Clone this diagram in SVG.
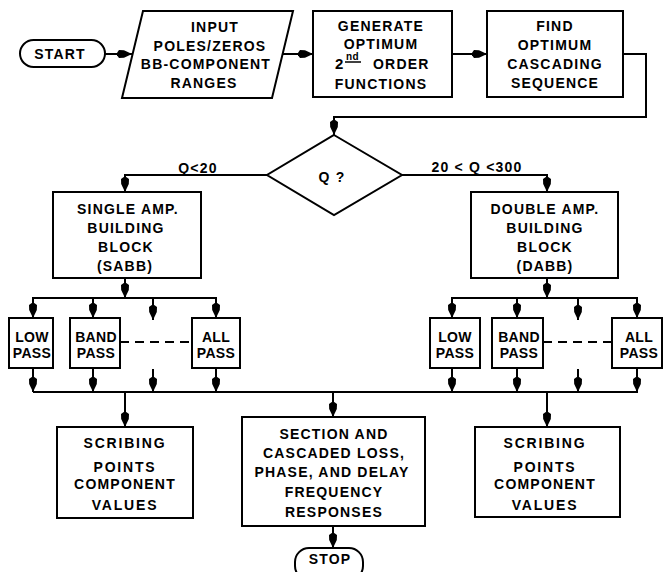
<svg xmlns="http://www.w3.org/2000/svg" width="671" height="572" viewBox="0 0 671 572">
<style>
.s{fill:none;stroke:#000;stroke-width:2}
.b{fill:#fff;stroke:#000;stroke-width:2}
.c{fill:none;stroke:#000;stroke-width:2;marker-end:url(#ah)}
.d{fill:none;stroke:#000;stroke-width:2;stroke-dasharray:9,6}
text{font-family:"Liberation Sans",Arial,sans-serif;font-weight:bold;font-size:14px;text-anchor:middle;letter-spacing:1.2px;fill:#000}
.n{letter-spacing:0.3px}
.w{letter-spacing:1.8px}
.l{text-anchor:start}
</style>
<defs>
<marker id="ah" markerUnits="userSpaceOnUse" markerWidth="16" markerHeight="10" refX="15" refY="5" orient="auto">
<path d="M0,3.8 L2,1 L7,1.2 L15,5 L7,8.8 L2,9 L0,6.2 Z" fill="#000"/>
</marker>
</defs>
<rect width="671" height="572" fill="#fff"/>
<g id="connectors">
<path class="c" d="M105,54 H132"/>
<path class="c" d="M283,54 H313"/>
<path class="c" d="M452,54 H487"/>
<path class="c" d="M623,54 H646 V117 H334 V135"/>
<path class="c" d="M267,175 H125 V192"/>
<path class="c" d="M402,175 H547 V192"/>
<path class="c" d="M125,278 V298"/>
<path class="c" d="M125,298 H33 V318"/>
<path class="c" d="M125,298 H216 V318"/>
<path class="c" d="M93,298 V318"/>
<path class="c" d="M153,299 V320"/>
<path class="c" d="M33,368 V392"/>
<path class="c" d="M93,368 V392"/>
<path class="c" d="M153,369 V392"/>
<path class="c" d="M216,368 V392"/>
<path class="s" d="M33,392 H638"/>
<path class="d" d="M120,342 H192"/>
<path class="c" d="M547,278 V298"/>
<path class="c" d="M547,298 H452 V318"/>
<path class="c" d="M547,298 H637 V318"/>
<path class="c" d="M517,298 V318"/>
<path class="c" d="M578,299 V320"/>
<path class="c" d="M452,368 V392"/>
<path class="c" d="M517,368 V392"/>
<path class="c" d="M578,369 V392"/>
<path class="c" d="M637,368 V392"/>
<path class="d" d="M543,342 H612"/>
<path class="c" d="M125,392 V427"/>
<path class="c" d="M333,392 V417"/>
<path class="c" d="M547,392 V427"/>
<path class="c" d="M333,526 V548"/>
</g>
<g id="start">
<rect class="b" x="20" y="40" width="85" height="27" rx="13.5"/>
<text x="60" y="59">START</text>
</g>
<g id="input">
<polygon class="b" points="143,11 293,11 272,98 122,98"/>
<text x="215" y="32">INPUT</text>
<text x="210" y="51">POLES/ZEROS</text>
<text x="206" y="69">BB-COMPONENT</text>
<text x="204" y="88">RANGES</text>
</g>
<g id="generate">
<rect class="b" x="313" y="11" width="139" height="86"/>
<text x="381" y="31">GENERATE</text>
<text x="381" y="49">OPTIMUM</text>
<text class="l" x="335" y="69" style="font-size:15px">2</text>
<text class="l" x="346" y="60" style="font-size:10px;letter-spacing:0.5px">nd</text>
<path class="s" d="M345,62 H361" style="stroke-width:1.5"/>
<text class="l" x="373" y="69">ORDER</text>
<text x="381" y="89">FUNCTIONS</text>
</g>
<g id="find">
<rect class="b" x="487" y="11" width="136" height="86"/>
<text x="555" y="31">FIND</text>
<text x="555" y="50">OPTIMUM</text>
<text x="555" y="69">CASCADING</text>
<text x="555" y="88">SEQUENCE</text>
</g>
<g id="decision">
<polygon class="b" points="334,135 402,175 334,215 267,175"/>
<text x="332" y="182">Q ?</text>
<text x="198" y="173">Q&lt;20</text>
<text x="477" y="172">20 &lt; Q &lt;300</text>
</g>
<g id="sabb">
<rect class="b" x="53" y="192" width="148" height="86"/>
<text x="128" y="214">SINGLE AMP.</text>
<text x="126" y="233">BUILDING</text>
<text x="126" y="252">BLOCK</text>
<text x="125" y="271">(SABB)</text>
</g>
<g id="dabb">
<rect class="b" x="471" y="192" width="147" height="86"/>
<text x="545" y="214">DOUBLE AMP.</text>
<text x="545" y="233">BUILDING</text>
<text x="545" y="252">BLOCK</text>
<text x="545" y="271">(DABB)</text>
</g>
<g id="lowpass-l">
<rect class="b" x="9" y="318" width="44" height="50"/>
<text class="n" x="32" y="342">LOW</text>
<text class="n" x="32" y="358">PASS</text>
</g>
<g id="bandpass-l">
<rect class="b" x="70" y="318" width="50" height="50"/>
<text class="n" x="96" y="342">BAND</text>
<text class="n" x="96" y="358">PASS</text>
</g>
<g id="allpass-l">
<rect class="b" x="192" y="318" width="48" height="50"/>
<text class="n" x="216" y="342">ALL</text>
<text class="n" x="216" y="358">PASS</text>
</g>
<g id="lowpass-r">
<rect class="b" x="430" y="318" width="50" height="50"/>
<text class="n" x="455" y="342">LOW</text>
<text class="n" x="455" y="358">PASS</text>
</g>
<g id="bandpass-r">
<rect class="b" x="492" y="318" width="51" height="50"/>
<text class="n" x="519" y="342">BAND</text>
<text class="n" x="519" y="358">PASS</text>
</g>
<g id="allpass-r">
<rect class="b" x="612" y="318" width="50" height="50"/>
<text class="n" x="639" y="342">ALL</text>
<text class="n" x="639" y="358">PASS</text>
</g>
<g id="scribing-l">
<rect class="b" x="57" y="427" width="136" height="91"/>
<text class="w" x="125" y="448">SCRIBING</text>
<text class="w" x="125" y="472">POINTS</text>
<text x="125" y="489">COMPONENT</text>
<text class="w" x="125" y="510">VALUES</text>
</g>
<g id="section">
<rect class="b" x="242" y="417" width="183" height="109"/>
<text x="334" y="439">SECTION AND</text>
<text x="334" y="458">CASCADED LOSS,</text>
<text x="332" y="477">PHASE, AND DELAY</text>
<text x="334" y="497">FREQUENCY</text>
<text x="334" y="517">RESPONSES</text>
</g>
<g id="scribing-r">
<rect class="b" x="475" y="427" width="145" height="90"/>
<text class="w" x="545" y="448">SCRIBING</text>
<text class="w" x="545" y="472">POINTS</text>
<text x="545" y="489">COMPONENT</text>
<text class="w" x="545" y="510">VALUES</text>
</g>
<g id="stop">
<rect class="b" x="295" y="548" width="68" height="32" rx="14"/>
<text x="330" y="564">STOP</text>
</g>
</svg>
